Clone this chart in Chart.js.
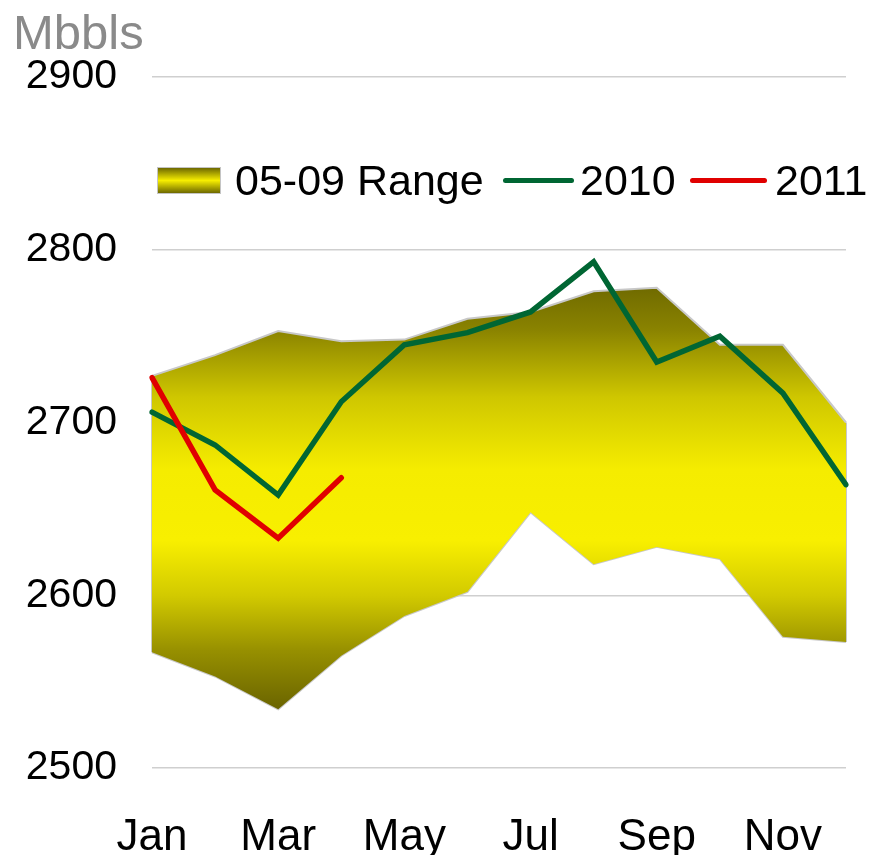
<!DOCTYPE html>
<html>
<head>
<meta charset="utf-8">
<script src="https://cdn.jsdelivr.net/npm/chart.js@4.4.1/dist/chart.umd.min.js"></script>
<style>
  body { margin: 0; background: #fff; }
  #wrap { position: relative; width: 873px; height: 855px; font-family: 'Liberation Sans', Arial, sans-serif; }
  #unit { position: absolute; left: 13px; top: 8px; font-size: 49px; line-height: 1; color: #8a8a8a; }
  .lg { position: absolute; top: 159px; font-size: 43px; line-height: 1; color: #000; white-space: nowrap; }
  .swatch { position: absolute; left: 157px; top: 167px; width: 62px; height: 25px; border: 1.5px solid #c4c4c4;
            background: linear-gradient(#6e6900, #f7ee00 50%, #6e6900); }
  .mark { position: absolute; top: 178px; height: 5px; border-radius: 3px; }
</style>
</head>
<body>
<div id="wrap">
  <canvas id="chart" width="873" height="855"></canvas>
  <div id="unit">Mbbls</div>
  <div class="swatch"></div>
  <div class="lg" style="left:235px">05-09 Range</div>
  <div class="mark" style="left:503px;width:71px;background:#006633"></div>
  <div class="lg" style="left:580px">2010</div>
  <div class="mark" style="left:690px;width:77px;background:#e00000"></div>
  <div class="lg" style="left:775px">2011</div>
</div>
<script>
// ── Data (Mbbls) ─────────────────────────────────────────────────────────────
const MONTHS     = ['Jan','Feb','Mar','Apr','May','Jun','Jul','Aug','Sep','Oct','Nov','Dec'];
const RANGE_HIGH = [2727, 2739, 2753, 2747, 2748, 2760, 2764, 2776, 2778, 2745, 2745, 2700];
const RANGE_LOW  = [2567, 2553, 2534, 2565, 2588, 2602, 2648, 2618, 2628, 2621, 2576, 2573];
const Y2010      = [2706, 2687, 2658, 2712, 2745, 2752, 2764, 2793, 2735, 2750, 2717, 2664];
const Y2011      = [2726, 2661, 2633, 2668];
const Y_TICKS    = { min: 2500, max: 2900, step: 100 };

const FONT = "'Liberation Sans', Arial, sans-serif";
const EDGE = '#c8c8c8';

// ── Range fill: vertical dark / yellow / dark gradient over the band ─────────
function rangeGradient(ctx) {
  const chart = ctx.chart;
  const { chartArea, scales } = chart;
  if (!chartArea) return '#f7ee00';
  const top = scales.y.getPixelForValue(Math.max(...RANGE_HIGH));
  const bot = scales.y.getPixelForValue(Math.min(...RANGE_LOW));
  const g = chart.ctx.createLinearGradient(0, top, 0, bot);
  g.addColorStop(0,    '#706b00');
  g.addColorStop(0.1,  '#8a8300');
  g.addColorStop(0.26, '#cfc700');
  g.addColorStop(0.43, '#f5ec00');
  g.addColorStop(0.6,  '#f8ef00');
  g.addColorStop(0.73, '#d2ca00');
  g.addColorStop(0.86, '#979000');
  g.addColorStop(1,    '#6a6400');
  return g;
}

// ── Grey edges closing the band at first and last month ──────────────────────
const bandEdges = {
  id: 'bandEdges',
  afterDatasetDraw(chart, args) {
    if (args.index !== 1) return;
    const { ctx, scales: { x, y } } = chart;
    const last = MONTHS.length - 1;
    ctx.save();
    ctx.strokeStyle = EDGE;
    ctx.lineWidth = 2;
    [0, last].forEach(i => {
      const px = x.getPixelForValue(i);
      ctx.beginPath();
      ctx.moveTo(px, y.getPixelForValue(RANGE_HIGH[i]));
      ctx.lineTo(px, y.getPixelForValue(RANGE_LOW[i]));
      ctx.stroke();
    });
    ctx.restore();
  }
};

new Chart(document.getElementById('chart'), {
  type: 'line',
  data: {
    labels: MONTHS,
    datasets: [
      { label: '05-09 Range', data: RANGE_HIGH, fill: '+1', backgroundColor: rangeGradient,
        borderColor: EDGE, borderWidth: 2, pointRadius: 0, order: 3 },
      { label: '05-09 Low', data: RANGE_LOW, fill: false,
        borderColor: EDGE, borderWidth: 2, pointRadius: 0, order: 3 },
      { label: '2010', data: Y2010, borderColor: '#006633', borderWidth: 5.5, fill: false,
        pointRadius: 0, borderCapStyle: 'round', order: 2 },
      { label: '2011', data: Y2011, borderColor: '#e00000', borderWidth: 5.5, fill: false,
        pointRadius: 0, borderCapStyle: 'round', order: 1 }
    ]
  },
  options: {
    responsive: false,
    animation: false,
    devicePixelRatio: 1,
    layout: { padding: { top: 77, right: 27, left: 0, bottom: 0 } },
    plugins: { legend: { display: false }, tooltip: { enabled: false } },
    scales: {
      x: {
        offset: false,
        grid: { display: false },
        border: { display: false },
        ticks: {
          autoSkip: false, maxRotation: 0, padding: 35, color: '#000',
          font: { family: FONT, size: 44 },
          callback: (v, i) => (i % 2 === 0 ? MONTHS[i] : '')
        },
        afterFit: s => { s.height = 87; s.paddingLeft = 0; s.paddingRight = 0; }
      },
      y: {
        min: Y_TICKS.min, max: Y_TICKS.max,
        grid: { color: '#cfcfcf', lineWidth: 1.5, drawTicks: false },
        border: { display: false },
        ticks: {
          stepSize: Y_TICKS.step, padding: 35, color: '#000',
          font: { family: FONT, size: 41 },
          callback: v => String(v)
        },
        afterFit: s => { s.width = 152; }
      }
    }
  },
  plugins: [bandEdges]
});
</script>
</body>
</html>
